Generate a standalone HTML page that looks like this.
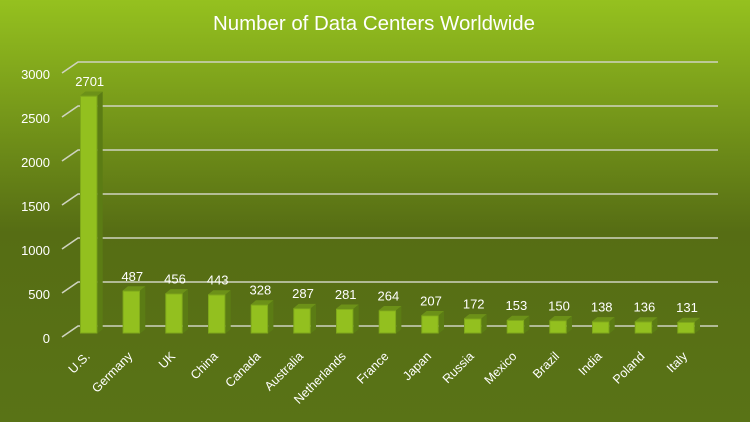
<!DOCTYPE html>
<html><head><meta charset="utf-8"><style>
html,body{margin:0;padding:0;width:750px;height:422px;overflow:hidden}
svg{display:block}
text{font-family:"Liberation Sans",sans-serif;fill:#fff}
</style></head><body>
<svg width="750" height="422" viewBox="0 0 750 422" xmlns="http://www.w3.org/2000/svg">
<defs>
<linearGradient id="bg" x1="0" y1="0" x2="0" y2="1">
<stop offset="0" stop-color="#95c11f"/>
<stop offset="0.55" stop-color="#566d14"/>
<stop offset="1" stop-color="#597316"/>
</linearGradient>
</defs>
<rect width="750" height="422" fill="url(#bg)"/>
<text x="374" y="30" font-size="20" text-anchor="middle" textLength="322" lengthAdjust="spacingAndGlyphs">Number of Data Centers Worldwide</text>
<g stroke="#cfd3c0" stroke-width="1.6" fill="none">
<polyline points="62,73 78,62 718,62"/>
<polyline points="62,117 78,106 718,106"/>
<polyline points="62,161 78,150 718,150"/>
<polyline points="62,205 78,194 718,194"/>
<polyline points="62,249 78,238 718,238"/>
<polyline points="62,293 78,282 718,282"/>
<polyline points="62,337 78,326 718,326"/>
</g>
<g font-size="13" text-anchor="end">
<text x="50" y="79">3000</text>
<text x="50" y="123">2500</text>
<text x="50" y="167">2000</text>
<text x="50" y="211">1500</text>
<text x="50" y="255">1000</text>
<text x="50" y="299">500</text>
<text x="50" y="343">0</text>
</g>
<g id="bars">
<g transform="translate(88.7,0)"><polygon points="8.7,95.8 14,91.5 14,329.2 8.7,333.5" fill="#5b7c14"/><polygon points="-8.7,95.8 -3.4,91.5 14,91.5 8.7,95.8" fill="#6c9118"/><rect x="-8.2" y="96.3" width="16.4" height="236.7" fill="#93c01f" stroke="#7fa81b" stroke-width="1"/></g>
<g transform="translate(131.3,0)"><polygon points="8.7,290.6 14,286.3 14,329.2 8.7,333.5" fill="#5b7c14"/><polygon points="-8.7,290.6 -3.4,286.3 14,286.3 8.7,290.6" fill="#6c9118"/><rect x="-8.2" y="291.1" width="16.4" height="41.9" fill="#93c01f" stroke="#7fa81b" stroke-width="1"/></g>
<g transform="translate(174,0)"><polygon points="8.7,293.4 14,289.1 14,329.2 8.7,333.5" fill="#5b7c14"/><polygon points="-8.7,293.4 -3.4,289.1 14,289.1 8.7,293.4" fill="#6c9118"/><rect x="-8.2" y="293.9" width="16.4" height="39.1" fill="#93c01f" stroke="#7fa81b" stroke-width="1"/></g>
<g transform="translate(216.7,0)"><polygon points="8.7,294.5 14,290.2 14,329.2 8.7,333.5" fill="#5b7c14"/><polygon points="-8.7,294.5 -3.4,290.2 14,290.2 8.7,294.5" fill="#6c9118"/><rect x="-8.2" y="295" width="16.4" height="38" fill="#93c01f" stroke="#7fa81b" stroke-width="1"/></g>
<g transform="translate(259.4,0)"><polygon points="8.7,304.6 14,300.3 14,329.2 8.7,333.5" fill="#5b7c14"/><polygon points="-8.7,304.6 -3.4,300.3 14,300.3 8.7,304.6" fill="#6c9118"/><rect x="-8.2" y="305.1" width="16.4" height="27.9" fill="#93c01f" stroke="#7fa81b" stroke-width="1"/></g>
<g transform="translate(302,0)"><polygon points="8.7,308.2 14,303.9 14,329.2 8.7,333.5" fill="#5b7c14"/><polygon points="-8.7,308.2 -3.4,303.9 14,303.9 8.7,308.2" fill="#6c9118"/><rect x="-8.2" y="308.7" width="16.4" height="24.3" fill="#93c01f" stroke="#7fa81b" stroke-width="1"/></g>
<g transform="translate(344.7,0)"><polygon points="8.7,308.8 14,304.5 14,329.2 8.7,333.5" fill="#5b7c14"/><polygon points="-8.7,308.8 -3.4,304.5 14,304.5 8.7,308.8" fill="#6c9118"/><rect x="-8.2" y="309.3" width="16.4" height="23.7" fill="#93c01f" stroke="#7fa81b" stroke-width="1"/></g>
<g transform="translate(387.4,0)"><polygon points="8.7,310.3 14,306 14,329.2 8.7,333.5" fill="#5b7c14"/><polygon points="-8.7,310.3 -3.4,306 14,306 8.7,310.3" fill="#6c9118"/><rect x="-8.2" y="310.8" width="16.4" height="22.2" fill="#93c01f" stroke="#7fa81b" stroke-width="1"/></g>
<g transform="translate(430,0)"><polygon points="8.7,315.3 14,311 14,329.2 8.7,333.5" fill="#5b7c14"/><polygon points="-8.7,315.3 -3.4,311 14,311 8.7,315.3" fill="#6c9118"/><rect x="-8.2" y="315.8" width="16.4" height="17.2" fill="#93c01f" stroke="#7fa81b" stroke-width="1"/></g>
<g transform="translate(472.7,0)"><polygon points="8.7,318.4 14,314.1 14,329.2 8.7,333.5" fill="#5b7c14"/><polygon points="-8.7,318.4 -3.4,314.1 14,314.1 8.7,318.4" fill="#6c9118"/><rect x="-8.2" y="318.9" width="16.4" height="14.1" fill="#93c01f" stroke="#7fa81b" stroke-width="1"/></g>
<g transform="translate(515.4,0)"><polygon points="8.7,320 14,315.7 14,329.2 8.7,333.5" fill="#5b7c14"/><polygon points="-8.7,320 -3.4,315.7 14,315.7 8.7,320" fill="#6c9118"/><rect x="-8.2" y="320.5" width="16.4" height="12.5" fill="#93c01f" stroke="#7fa81b" stroke-width="1"/></g>
<g transform="translate(558,0)"><polygon points="8.7,320.3 14,316 14,329.2 8.7,333.5" fill="#5b7c14"/><polygon points="-8.7,320.3 -3.4,316 14,316 8.7,320.3" fill="#6c9118"/><rect x="-8.2" y="320.8" width="16.4" height="12.2" fill="#93c01f" stroke="#7fa81b" stroke-width="1"/></g>
<g transform="translate(600.7,0)"><polygon points="8.7,321.4 14,317.1 14,329.2 8.7,333.5" fill="#5b7c14"/><polygon points="-8.7,321.4 -3.4,317.1 14,317.1 8.7,321.4" fill="#6c9118"/><rect x="-8.2" y="321.9" width="16.4" height="11.1" fill="#93c01f" stroke="#7fa81b" stroke-width="1"/></g>
<g transform="translate(643.4,0)"><polygon points="8.7,321.5 14,317.2 14,329.2 8.7,333.5" fill="#5b7c14"/><polygon points="-8.7,321.5 -3.4,317.2 14,317.2 8.7,321.5" fill="#6c9118"/><rect x="-8.2" y="322" width="16.4" height="11" fill="#93c01f" stroke="#7fa81b" stroke-width="1"/></g>
<g transform="translate(686,0)"><polygon points="8.7,322 14,317.7 14,329.2 8.7,333.5" fill="#5b7c14"/><polygon points="-8.7,322 -3.4,317.7 14,317.7 8.7,322" fill="#6c9118"/><rect x="-8.2" y="322.5" width="16.4" height="10.5" fill="#93c01f" stroke="#7fa81b" stroke-width="1"/></g>
</g>
<g font-size="13" text-anchor="middle">
<text x="89.7" y="86">2701</text>
<text x="132.3" y="281">487</text>
<text x="175" y="283.5">456</text>
<text x="217.7" y="284.5">443</text>
<text x="260.4" y="294.5">328</text>
<text x="303" y="298">287</text>
<text x="345.7" y="299">281</text>
<text x="388.4" y="300.5">264</text>
<text x="431" y="305.5">207</text>
<text x="473.7" y="308.5">172</text>
<text x="516.4" y="310">153</text>
<text x="559" y="310.5">150</text>
<text x="601.7" y="311.5">138</text>
<text x="644.4" y="311.5">136</text>
<text x="687" y="312">131</text>
</g>
<g font-size="12.5" text-anchor="end">
<text transform="translate(90.7,357) rotate(-45)">U.S.</text>
<text transform="translate(133.3,357) rotate(-45)">Germany</text>
<text transform="translate(176,357) rotate(-45)">UK</text>
<text transform="translate(218.7,357) rotate(-45)">China</text>
<text transform="translate(261.4,357) rotate(-45)">Canada</text>
<text transform="translate(304,357) rotate(-45)">Australia</text>
<text transform="translate(346.7,357) rotate(-45)">Netherlands</text>
<text transform="translate(389.4,357) rotate(-45)">France</text>
<text transform="translate(432,357) rotate(-45)">Japan</text>
<text transform="translate(474.7,357) rotate(-45)">Russia</text>
<text transform="translate(517.4,357) rotate(-45)">Mexico</text>
<text transform="translate(560,357) rotate(-45)">Brazil</text>
<text transform="translate(602.7,357) rotate(-45)">India</text>
<text transform="translate(645.4,357) rotate(-45)">Poland</text>
<text transform="translate(688,357) rotate(-45)">Italy</text>
</g>
</svg>
</body></html>
